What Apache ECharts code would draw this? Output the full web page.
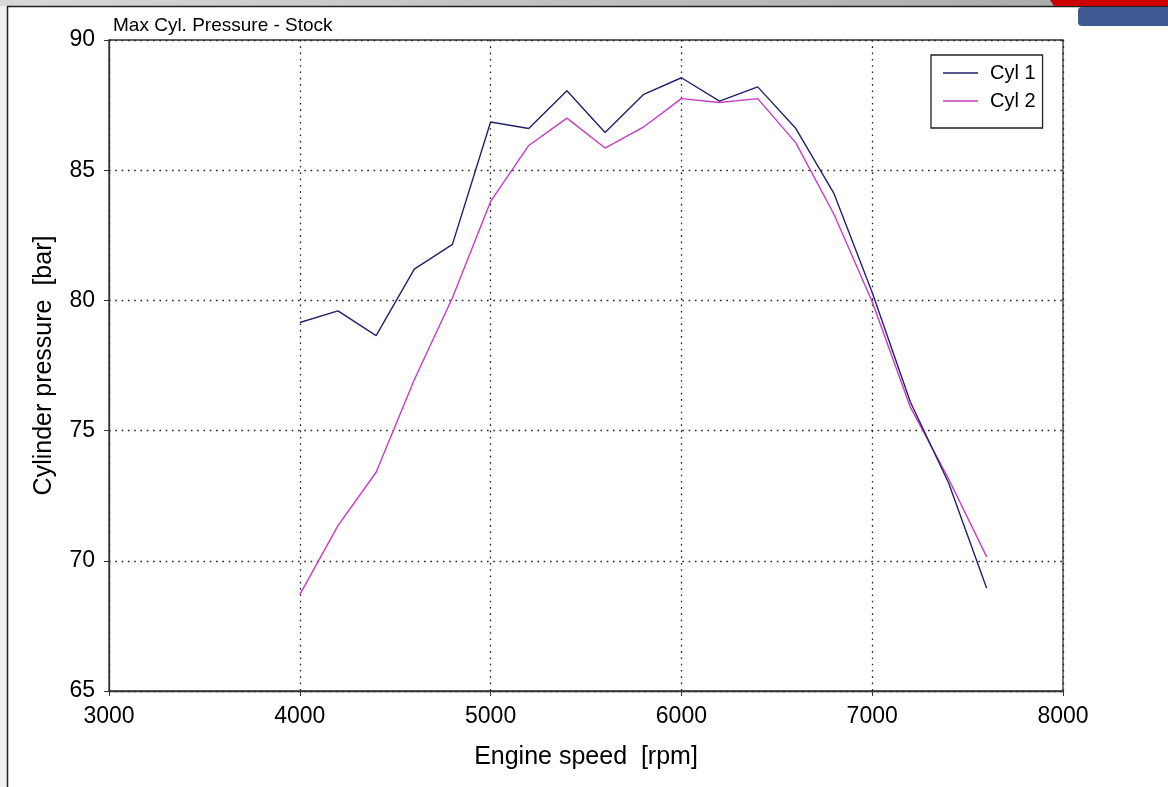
<!DOCTYPE html>
<html>
<head>
<meta charset="utf-8">
<script src="https://cdn.jsdelivr.net/npm/echarts@6/dist/echarts.min.js"></script>
<style>
  html, body { margin: 0; padding: 0; background: #fff; }
  #chart { width: 1168px; height: 787px; }
</style>
</head>
<body>
<div id="chart"></div>
<script>
// engine speed (rpm) and max cylinder pressure (bar)
const rpm = [4000, 4200, 4400, 4600, 4800, 5000, 5200, 5400, 5600, 5800,
  6000, 6200, 6400, 6600, 6800, 7000, 7200, 7400, 7600]
const cyl1 = [79.15, 79.6, 78.65, 81.2, 82.15, 86.85, 86.6, 88.05, 86.45, 87.9,
  88.55, 87.65, 88.2, 86.6, 84.1, 80.3, 76.1, 73.0, 68.95]
const cyl2 = [68.7, 71.35, 73.4, 76.95, 80.1, 83.8, 85.95, 87.0, 85.85, 86.65,
  87.75, 87.6, 87.75, 86.05, 83.3, 79.95, 75.9, 73.15, 70.15]
const seriesNames = ['Cyl 1', 'Cyl 2']

const chart = echarts.init(document.getElementById('chart'))

const toPairs = (ys) => rpm.map((x, i) => [x, ys[i]])
const gridLine = { show: true, lineStyle: { color: '#222', width: 1.3, type: [1.6, 4.7] } }
const font = 'Liberation Sans, Arial, sans-serif'

const option = {
  animation: false,
  backgroundColor: '#fff',
  textStyle: { fontFamily: font },
  title: {
    text: 'Max Cyl. Pressure - Stock',
    left: 108,
    top: 11,
    textStyle: { fontSize: 19, fontWeight: 'normal', color: '#000', fontFamily: font }
  },
  legend: {
    data: seriesNames,
    orient: 'vertical',
    left: 931,
    top: 55,
    padding: [8, 7, 17, 12],
    itemGap: 8,
    itemWidth: 35,
    itemHeight: 1.5,
    icon: 'rect',
    borderColor: '#222',
    borderWidth: 1.3,
    backgroundColor: '#fff',
    textStyle: { fontSize: 20, color: '#000', padding: [0, 0, 0, 7] }
  },
  grid: {
    left: 109,
    right: 105,
    top: 40,
    bottom: 96,
    show: true,
    borderColor: '#333',
    borderWidth: 1.3
  },
  xAxis: {
    type: 'value',
    min: 3000,
    max: 8000,
    interval: 1000,
    name: 'Engine speed  [rpm]',
    nameLocation: 'middle',
    nameGap: 54,
    nameTextStyle: { fontSize: 25, color: '#000' },
    axisLine: { lineStyle: { color: '#333', width: 1.3 } },
    axisTick: { show: true, length: 5, lineStyle: { color: '#333' } },
    axisLabel: { fontSize: 23, color: '#000', margin: 14, formatter: (v) => String(v) },
    splitLine: gridLine
  },
  yAxis: {
    type: 'value',
    min: 65,
    max: 90,
    interval: 5,
    name: 'Cylinder pressure  [bar]',
    nameLocation: 'middle',
    nameGap: 52,
    nameTextStyle: { fontSize: 25, color: '#000' },
    axisLine: { show: true, lineStyle: { color: '#333', width: 1.3 } },
    axisTick: { show: true, length: 5, lineStyle: { color: '#333' } },
    axisLabel: { fontSize: 23, color: '#000', margin: 14 },
    splitLine: gridLine
  },
  series: [
    {
      name: seriesNames[0],
      type: 'line',
      data: toPairs(cyl1),
      showSymbol: false,
      lineStyle: { color: '#22226a', width: 1.4 },
      itemStyle: { color: '#22226a' },
      z: 3
    },
    {
      name: seriesNames[1],
      type: 'line',
      data: toPairs(cyl2),
      showSymbol: false,
      lineStyle: { color: '#c63cc6', width: 1.4 },
      itemStyle: { color: '#c63cc6' },
      z: 2
    }
  ],
  // screenshot frame around the chart
  graphic: [
    { type: 'rect', shape: { x: 0, y: 0, width: 1168, height: 6 },
      style: { fill: new echarts.graphic.LinearGradient(0, 0, 1, 0, [
        { offset: 0, color: '#d8d8d8' }, { offset: 1, color: '#a8a8a8' }]) }, z: 10 },
    { type: 'rect', shape: { x: 0, y: 6, width: 7, height: 781 }, style: { fill: '#f2f2f2' }, z: 10 },
    { type: 'line', shape: { x1: 7.5, y1: 6, x2: 7.5, y2: 787 }, style: { stroke: '#222', lineWidth: 1.5 }, z: 11 },
    { type: 'line', shape: { x1: 7, y1: 6.5, x2: 1168, y2: 6.5 }, style: { stroke: '#222', lineWidth: 1.5 }, z: 11 },
    { type: 'polygon', shape: { points: [[1050, 0], [1168, 0], [1168, 6], [1054, 6]] }, style: { fill: '#cc0000' }, z: 12 },
    { type: 'rect', shape: { x: 1078, y: 7, width: 100, height: 19, r: 4 }, style: { fill: '#3e5a92' }, z: 12 }
  ]
}

chart.setOption(option)
</script>
</body>
</html>
